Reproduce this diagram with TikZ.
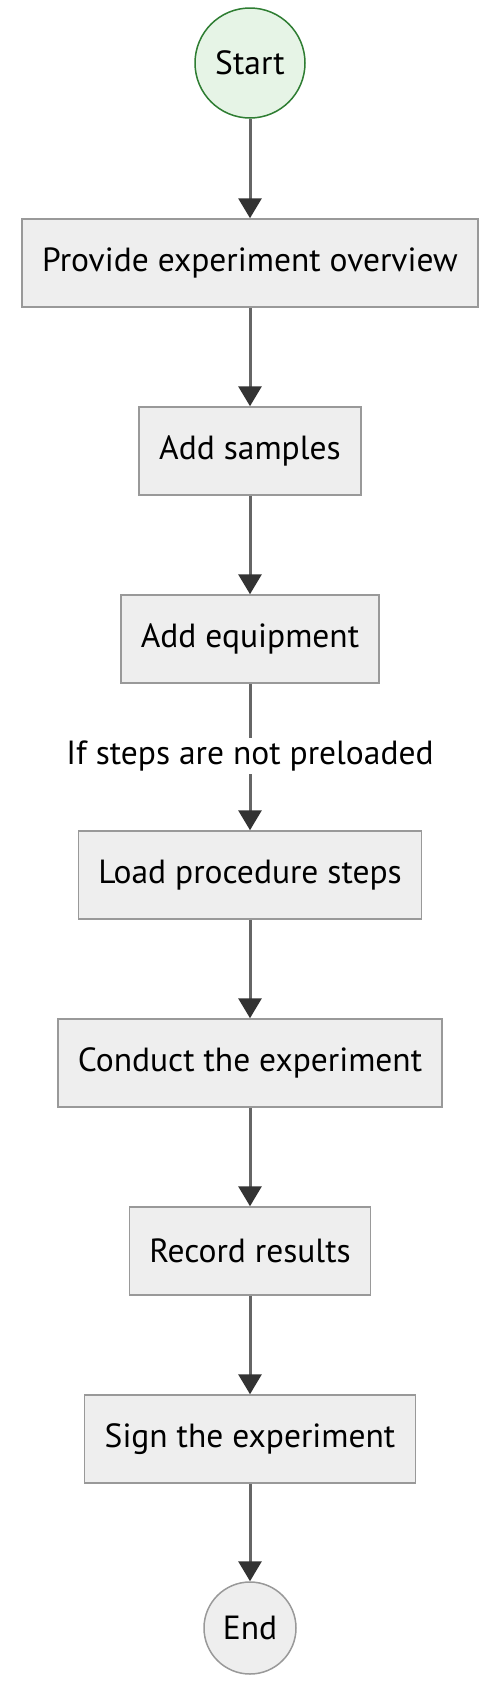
\documentclass[tikz,border=0pt]{standalone}
\usepackage{fontspec}
\setmainfont{PT Sans}
\usetikzlibrary{positioning,arrows.meta}
\definecolor{boxfill}{HTML}{EEEEEE}
\definecolor{boxline}{HTML}{999999}
\definecolor{startfill}{HTML}{E6F4E6}
\definecolor{startline}{HTML}{2E7D32}
\definecolor{arrline}{HTML}{666666}
\definecolor{arrhead}{HTML}{333333}
\tikzset{
  box/.style  = {rectangle, draw=boxline, line width=1.5pt, fill=boxfill,
                 minimum height=88pt, inner xsep=20pt,
                 font=\fontsize{33.5}{38}\selectfont},
  term/.style = {circle, draw=boxline, line width=1.5pt, fill=boxfill,
                 inner sep=0pt, font=\fontsize{33.5}{38}\selectfont},
  arr/.style  = {-{Triangle[length=20pt,width=23pt,color=arrhead]},
                 draw=arrline, line width=3pt},
  lab/.style  = {fill=white, inner sep=3pt, font=\fontsize{33.5}{38}\selectfont}
}
\begin{document}
\begin{tikzpicture}[x=1pt,y=-1pt]
  \useasboundingbox (0,0) rectangle (500,1700);
  \node[term,minimum size=110pt,fill=startfill,draw=startline] (start) at (250,63){Start};
  \node[box] (overview) at (250,263){Provide experiment overview};
  \node[box] (samples) at (250,451){Add samples};
  \node[box] (equipment) at (250,639){Add equipment};
  \node[box] (load) at (250,875){Load procedure steps};
  \node[box] (conduct) at (250,1063){Conduct the experiment};
  \node[box] (record) at (250,1251){Record results};
  \node[box] (sign) at (250,1439){Sign the experiment};
  \node[term,minimum size=92pt] (end) at (250,1628){End};
  \draw[arr] (start) -- (overview);
  \draw[arr] (overview) -- (samples);
  \draw[arr] (samples) -- (equipment);
  \draw[arr] (equipment) -- node[lab,pos=.495]{If steps are not preloaded} (load);
  \draw[arr] (load) -- (conduct);
  \draw[arr] (conduct) -- (record);
  \draw[arr] (record) -- (sign);
  \draw[arr] (sign) -- (end);
\end{tikzpicture}
\end{document}
